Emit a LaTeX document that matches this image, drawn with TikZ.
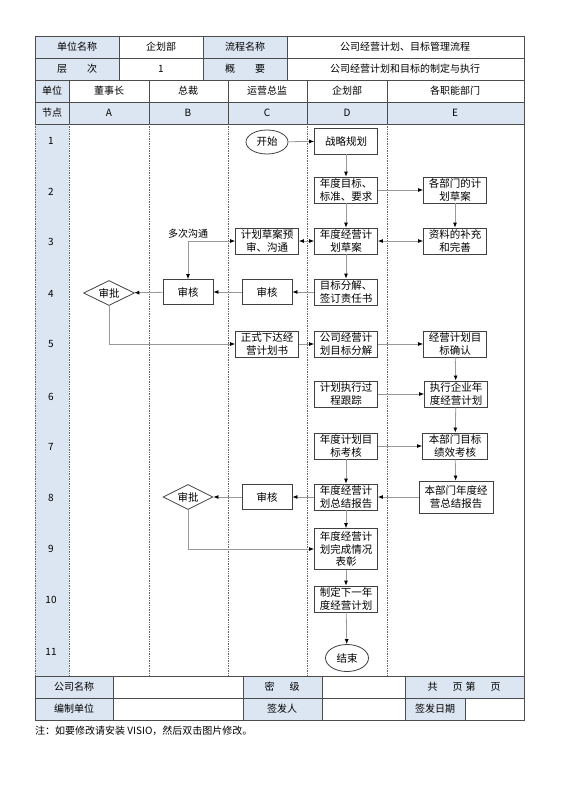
\documentclass[tikz,border=0pt]{standalone}
\usepackage{fontspec}
\setmainfont{Noto Sans CJK SC}
\usepackage{tikz}
\usepackage{xcolor}
\usetikzlibrary{
    arrows.meta,
    shapes.geometric,
    positioning
}
\definecolor{headblue}{HTML}{DCE6F2}

\begin{document}
\begin{tikzpicture}[x=1pt, y=-1pt,
    grid/.style={draw=black!70, line width=0.8pt},
    lane/.style={draw=black!60, densely dotted, line width=0.7pt},
    cell/.style={font=\fontsize{10}{12}\selectfont, inner sep=0pt},
    box/.style={draw=black!75, fill=white, line width=0.8pt, minimum width=63pt, minimum height=26pt,
        inner sep=1pt, align=center, font=\fontsize{10.5}{12.5}\selectfont},
    smallbox/.style={box, minimum width=50pt, minimum height=25pt},
    decision/.style={diamond, aspect=2, draw=black!75, fill=white, line width=0.8pt, minimum width=51pt,
        minimum height=25pt, inner sep=0pt, font=\fontsize{10.5}{12}\selectfont},
    term/.style={ellipse, draw=black!75, fill=white, line width=0.8pt, minimum width=42pt, minimum height=24pt,
        inner sep=0pt, font=\fontsize{10.5}{12}\selectfont},
    flow/.style={draw=black!40, line width=0.8pt, -{Latex[length=5pt, width=4pt, black]}},
    twoway/.style={draw=black!40, line width=0.8pt, {Latex[length=5pt, width=4pt, black]}-{Latex[length=5pt, width=4pt, black]}}
]
\useasboundingbox (0,0) rectangle (560,792);

% shaded cells
\fill[headblue] (35,36) rectangle (119,80);
\fill[headblue] (203,36) rectangle (287,80);
\fill[headblue] (35,80) rectangle (69,102);
\fill[headblue] (35,102) rectangle (524,124);
\fill[headblue] (35,124) rectangle (69,676);
\fill[headblue] (35,676) rectangle (113,720);
\fill[headblue] (243,676) rectangle (322,720);
\fill[headblue] (405,676) rectangle (524,698);
\fill[headblue] (405,698) rectangle (465,720);

% table lines
\draw[grid] (35,124) -- (35,36) -- (524,36) -- (524,720) -- (35,720) -- (35,676);
\draw[grid]
(35,58) -- (524,58)
(35,80) -- (524,80)
(35,102) -- (524,102)
(35,124) -- (524,124)
(35,676) -- (524,676)
(35,698) -- (524,698);
\draw[grid]
(119,36) -- (119,80)
(203,36) -- (203,80)
(287,36) -- (287,80)
(69,80) -- (69,124)
(149,80) -- (149,124)
(228,80) -- (228,124)
(307,80) -- (307,124)
(387,80) -- (387,124);
\draw[grid]
(113,676) -- (113,720)
(243,676) -- (243,720)
(322,676) -- (322,720)
(405,676) -- (405,720)
(465,698) -- (465,720);
\draw[lane]
(35,124) -- (35,676)
(69,124) -- (69,676)
(149,124) -- (149,676)
(228,124) -- (228,676)
(307,124) -- (307,676)
(387,124) -- (387,676);

% header texts
\node[cell] (hunit) at (77,47) {单位名称};
\node[cell] (hdept) at (161,47) {企划部};
\node[cell] (hflow) at (245,47) {流程名称};
\node[cell] (hname) at (405,47) {公司经营计划、目标管理流程};
\node[cell] (hlevel) at (77,69) {层\hspace{2em}次};
\node[cell] (hone) at (161,69) {1};
\node[cell] (hsum) at (245,69) {概\hspace{2em}要};
\node[cell] (hdesc) at (405,69) {公司经营计划和目标的制定与执行};
\node[cell] (lunit) at (52,91) {单位};
\node[cell] (lboard) at (109,91) {董事长};
\node[cell] (lpres) at (188,91) {总裁};
\node[cell] (lops) at (267,91) {运营总监};
\node[cell] (lplan) at (347,91) {企划部};
\node[cell] (lfunc) at (455,91) {各职能部门};
\node[cell] (knode) at (52,113) {节点};
\node[cell] (kA) at (109,113) {A};
\node[cell] (kB) at (188,113) {B};
\node[cell] (kC) at (267,113) {C};
\node[cell] (kD) at (347,113) {D};
\node[cell] (kE) at (455,113) {E};

% row numbers
\node[cell] (r1) at (51,141) {1};
\node[cell] (r2) at (51,192) {2};
\node[cell] (r3) at (51,242) {3};
\node[cell] (r4) at (51,294) {4};
\node[cell] (r5) at (51,344) {5};
\node[cell] (r6) at (51,397) {6};
\node[cell] (r7) at (51,447) {7};
\node[cell] (r8) at (51,498) {8};
\node[cell] (r9) at (51,549) {9};
\node[cell] (r10) at (51,600) {10};
\node[cell] (r11) at (51,652) {11};

% footer texts
\node[cell] (fcomp) at (74,687) {公司名称};
\node[cell] (fsec) at (282,687) {密\hspace{1.5em}级};
\node[cell] (fpage) at (464,687) {共\hspace{1.5em}页\hspace{0.3em}第\hspace{1.5em}页};
\node[cell] (fmaker) at (74,709) {编制单位};
\node[cell] (fsign) at (282,709) {签发人};
\node[cell] (fdate) at (435,709) {签发日期};
\node[cell, anchor=west] (note) at (35,731) {注：如要修改请安装 VISIO，然后双击图片修改。};

% flow nodes
\node[term] (start) at (267,142) {开始};
\node[box] (strat) at (346,141) {战略规划};
\node[box] (goal) at (346,190) {年度目标、\\标准、要求};
\node[box] (draft) at (346,241) {年度经营计\\划草案};
\node[box] (split) at (346,292) {目标分解、\\签订责任书};
\node[box] (ddraft) at (455,190) {各部门的计\\划草案};
\node[box] (supp) at (455,241) {资料的补充\\和完善};
\node[box] (prerev) at (267,241) {计划草案预\\审、沟通};
\node[smallbox] (checkC) at (267,292) {审核};
\node[smallbox] (checkB) at (188,292) {审核};
\node[decision] (apprA) at (109,293) {审批};
\node[cell] (talk) at (188,234) {多次沟通};
\node[box] (issue) at (267,344) {正式下达经\\营计划书};
\node[box] (decomp) at (346,344) {公司经营计\\划目标分解};
\node[box] (confirm) at (455,344) {经营计划目\\标确认};
\node[box] (track) at (346,394) {计划执行过\\程跟踪};
\node[box] (exec) at (456,394) {执行企业年\\度经营计划};
\node[box] (assess) at (346,446) {年度计划目\\标考核};
\node[box, minimum width=65pt] (perf) at (455,446) {本部门目标\\绩效考核};
\node[box, minimum width=74pt, minimum height=32pt] (dreport) at (456,497) {本部门年度经\\营总结报告};
\node[box] (report) at (346,497) {年度经营计\\划总结报告};
\node[smallbox] (checkC2) at (267,497) {审核};
\node[decision, minimum width=50pt] (apprB) at (188,497) {审批};
\node[box, minimum height=41pt] (award) at (346,549) {年度经营计\\划完成情况\\表彰};
\node[box] (next) at (346,599) {制定下一年\\度经营计划};
\node[term, minimum width=43pt, minimum height=27pt] (stop) at (347,658) {结束};

% connectors
\draw[flow] (start) -- (strat);
\draw[flow] (strat) -- (goal);
\draw[flow] (goal) -- (draft);
\draw[flow] (draft) -- (split);
\draw[flow] (goal) -- (ddraft);
\draw[flow] (ddraft) -- (supp);
\draw[twoway] (prerev) -- (draft);
\draw[twoway] (draft) -- (supp);
\draw[twoway] (prerev.west) -| (checkB.north);
\draw[flow] (split) -- (checkC);
\draw[flow] (checkC) -- (checkB);
\draw[flow] (checkB) -- (apprA);
\draw[flow] (apprA.south) |- (issue.west);
\draw[flow] (issue) -- (decomp);
\draw[flow] (decomp) -- (confirm);
\draw[flow] (confirm) -- (exec);
\draw[flow] (track) -- (exec);
\draw[flow] (exec) -- (perf);
\draw[flow] (assess) -- (perf);
\draw[flow] (perf) -- (dreport);
\draw[flow] (dreport) -- (report);
\draw[flow] (assess) -- (report);
\draw[flow] (report) -- (checkC2);
\draw[flow] (checkC2) -- (apprB);
\draw[flow] (apprB.south) |- (award.west);
\draw[flow] (report) -- (award);
\draw[flow] (award) -- (next);
\draw[flow] (next) -- (stop);
\end{tikzpicture}
\end{document}
